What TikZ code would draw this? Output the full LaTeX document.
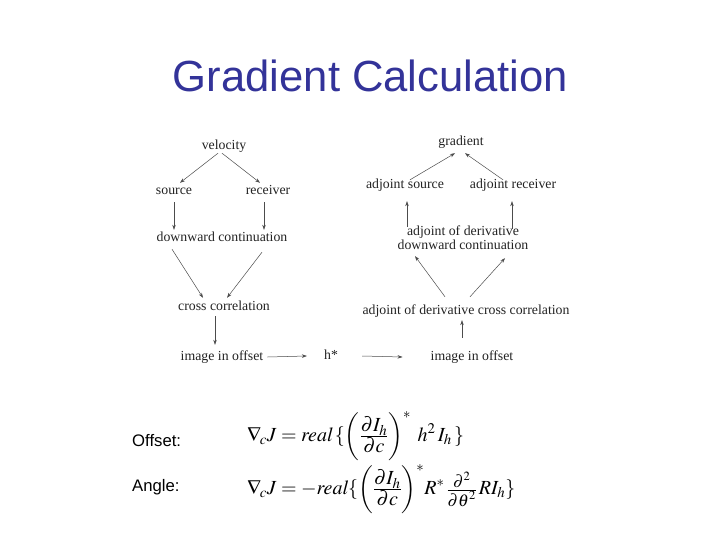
\documentclass[tikz,border=0pt]{standalone}
\usepackage{mathptmx}
\usepackage{graphicx}
\usepackage[no-math]{fontspec}
\newfontfamily\tms{Liberation Serif}
\newfontfamily\arl{Liberation Sans}
\usetikzlibrary{arrows.meta}
\definecolor{titleblue}{RGB}{51,51,153}
\definecolor{inkgray}{RGB}{35,35,35}
\newcommand{\mystrutp}{\rule[-18pt]{0pt}{46pt}}
\newcommand{\tightfrac}[2]{{\textstyle\frac{\displaystyle #1}{\displaystyle #2}}}
\begin{document}
\begin{tikzpicture}[x=1pt,y=-1pt,
  lbl/.style={font=\tms\fontsize{13.8}{14}\selectfont, inner sep=0pt, text height=9pt, text depth=3pt, text=inkgray},
  lbltwo/.style={font=\tms\fontsize{13.8}{14}\selectfont, inner sep=0pt, align=center, text=inkgray},
  arr/.style={draw=black!70, line width=0.5pt, -{Stealth[length=5pt,width=3.5pt]}},
  side/.style={font=\arl\fontsize{16.7}{18}\selectfont, inner sep=0pt, anchor=base west},
  formula/.style={font=\fontsize{20}{24}\selectfont, inner sep=0pt, anchor=west}
]
\fill[white] (0,0) rectangle (720,540);
\useasboundingbox (0,0) rectangle (720,540);

% title
\node[font=\arl\fontsize{43.6}{48}\selectfont, text=titleblue, anchor=base, inner sep=0pt] (title) at (370.5,92) {Gradient Calculation};

% left diagram
\node[lbl] (vel) at (224,147) {velocity};
\node[lbl] (src) at (174,192) {source};
\node[lbl] (rcv) at (268,192) {receiver};
\node[lbl] (dwn) at (222,238) {downward continuation};
\node[lbl] (cc)  at (224,307) {cross correlation};
\node[lbl] (img) at (222,357) {image in offset};
\node[lbl] (hs)  at (331,356) {h*};

% right diagram
\node[lbl] (grd)  at (461,143) {gradient};
\node[lbl] (asrc) at (405,186) {adjoint source};
\node[lbl] (arcv) at (513,186) {adjoint receiver};
\node[lbltwo] (adc) at (463,238) {adjoint of derivative\\downward continuation};
\node[lbl] (acc)  at (466,311) {adjoint of derivative cross correlation};
\node[lbl] (img2) at (472,357) {image in offset};

% left connectors
\draw[arr] ([xshift=-6pt]vel.south) -- ([xshift=6pt,yshift=3pt]src.north);
\draw[arr] ([xshift=-2pt]vel.south) -- ([xshift=-8pt,yshift=3pt]rcv.north);
\draw[arr] ([yshift=-4pt]src.south) -- ([yshift=2pt]src.south |- dwn.north);
\draw[arr] ([xshift=-4pt,yshift=-4pt]rcv.south) -- ([xshift=-4pt,yshift=2pt]rcv.south |- dwn.north);
\draw[arr] ([xshift=-50pt,yshift=-5pt]dwn.south) -- ([xshift=-21pt,yshift=3pt]cc.north);
\draw[arr] ([xshift=40pt,yshift=-8pt]dwn.south) -- ([xshift=3pt,yshift=3pt]cc.north);
\draw[arr] ([xshift=-9pt,yshift=-3pt]cc.south) -- ([xshift=-9pt,yshift=6pt]cc.south |- img.north);
\draw[arr] ([xshift=4pt]img.east) -- ([xshift=-17pt]hs.west);

% right connectors
\draw[arr] ([xshift=24pt]hs.east) -- ([xshift=-28pt]img2.west);
\draw[arr] ([xshift=-10pt,yshift=13pt]img2.north) -- ([xshift=-10pt,yshift=-3pt]img2.north |- acc.south);
\draw[arr] ([xshift=-21pt,yshift=8pt]acc.north) -- ([xshift=-48pt,yshift=-6pt]adc.south);
\draw[arr] ([xshift=4pt,yshift=8pt]acc.north) -- ([xshift=42pt,yshift=-8pt]adc.south);
\draw[arr] ([xshift=-56pt,yshift=-1pt]adc.north) -- ([xshift=2pt,yshift=-9pt]asrc.south);
\draw[arr] ([xshift=49pt,yshift=-3pt]adc.north) -- ([xshift=-1pt,yshift=-9pt]arcv.south);
\draw[arr] ([xshift=5pt]asrc.north) -- ([xshift=-6pt,yshift=-4pt]grd.south);
\draw[arr] ([xshift=-10pt]arcv.north) -- ([xshift=4pt,yshift=-4pt]grd.south);

% formulas
\node[side] (off) at (132,446) {Offset:};
\node[side] (ang) at (132,491) {Angle:};
\node[formula] (f1) at (247,436) {$\displaystyle \nabla_{\!c} J = \mathit{real}\,\{\left(\mystrutp\tightfrac{\partial I_h}{\partial c}\right)^{*}\;h^{2}\,I_h\,\}$};
\node[formula] (f2) at (247,489) {$\displaystyle \nabla_{\!c} J \mathrel{=} {-}\mathit{real}\{\left(\mystrutp\tightfrac{\partial I_h}{\partial c}\right)^{*}\!R^{*}\,\scalebox{0.85}{$\tightfrac{\partial^{2}}{\partial\theta^{2}}$}\,R I_h\}$};
\end{tikzpicture}
\end{document}
